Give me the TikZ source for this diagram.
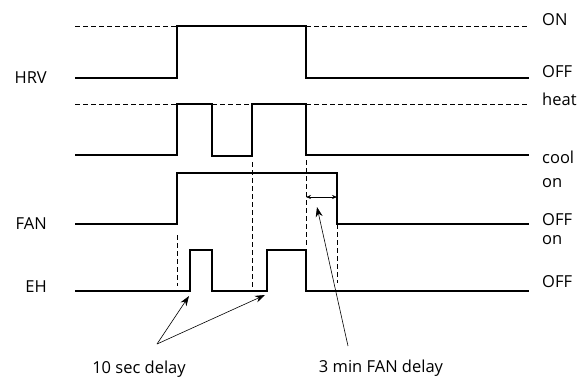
\documentclass[tikz,border=0pt]{standalone}
\usepackage{fontspec}
\setmainfont{Open Sans}
\usetikzlibrary{arrows.meta}

\begin{document}
\begin{tikzpicture}[x=1pt, y=-1pt, every node/.style={font=\fontsize{16.5}{19}\selectfont}]
  \tikzstyle{sig}=[line width=1.4pt, line join=miter]
  \tikzstyle{guide}=[line width=0.8pt, dash pattern=on 4.5pt off 3.5pt]
  \tikzstyle{level}=[anchor=base west, inner sep=0pt]
  \tikzstyle{trace}=[anchor=base east, inner sep=0pt]
  \tikzstyle{pointer}=[line width=0.6pt, -{Stealth[length=10pt, width=7pt]}]
  \useasboundingbox (0,0) rectangle (583,378);
  % dashed high levels
  \draw[guide] (75,26) -- (177,26);
  \draw[guide] (306,26) -- (529,26);
  \draw[guide] (75,104) -- (177,104);
  \draw[guide] (212,104) -- (252,104);
  \draw[guide] (306,104) -- (529,104);
  % dashed timing marks
  \draw[guide] (252,162) -- (252,287);
  \draw[guide] (177,235) -- (177,286);
  \draw[guide] (306,160) -- (306,248);
  \draw[guide] (337,224) -- (337,283);
  % signals
  \draw[sig] (75,78) -- (177,78) -- (177,26) -- (306,26) -- (306,78) -- (529,78);
  \draw[sig] (75,155) -- (177,155) -- (177,104) -- (212,104) -- (212,156) -- (252,156)
    -- (252,104) -- (306,104) -- (306,155) -- (529,155);
  \draw[sig] (75,224) -- (177,224) -- (177,173) -- (337,173) -- (337,224) -- (529,224);
  \draw[sig] (75,291) -- (190,291) -- (190,250) -- (212,250) -- (212,291) -- (267,291)
    -- (267,250) -- (306,250) -- (306,291) -- (529,291);
  % trace names
  \node[trace] (hrv) at (47,83) {HRV};
  \node[trace] (fan) at (47,229) {FAN};
  \node[trace] (eh) at (47,292) {EH};
  % level names
  \node[level] (on1) at (542,25) {ON};
  \node[level] (off1) at (542,77) {OFF};
  \node[level] (heat) at (542,105) {heat};
  \node[level] (cool) at (542,163) {cool};
  \node[level] (on2) at (542,187) {on};
  \node[level] (off2) at (542,225) {OFF};
  \node[level] (on3) at (542,244) {on};
  \node[level] (off3) at (542,287) {OFF};
  % delays
  \coordinate (fanA) at (306,197);
  \coordinate (fanB) at (337,197);
  \draw[line width=0.6pt, {Stealth[length=5pt, width=4pt]}-{Stealth[length=5pt, width=4pt]}] (fanA) -- (fanB);
  \node[anchor=base, inner sep=0pt] (secdelay) at (139,373) {10 sec delay};
  \node[anchor=base, inner sep=0pt] (mindelay) at (381,372) {3 min FAN delay};
  \coordinate (fork) at (157,344);
  \coordinate (ehA) at (189,296);
  \coordinate (ehB) at (265,295);
  \coordinate (tail) at (348,346);
  \coordinate (head) at (317,207);
  \draw[pointer] (fork) -- (ehA);
  \draw[pointer] (fork) -- (ehB);
  \draw[pointer] (tail) -- (head);
\end{tikzpicture}
\end{document}
